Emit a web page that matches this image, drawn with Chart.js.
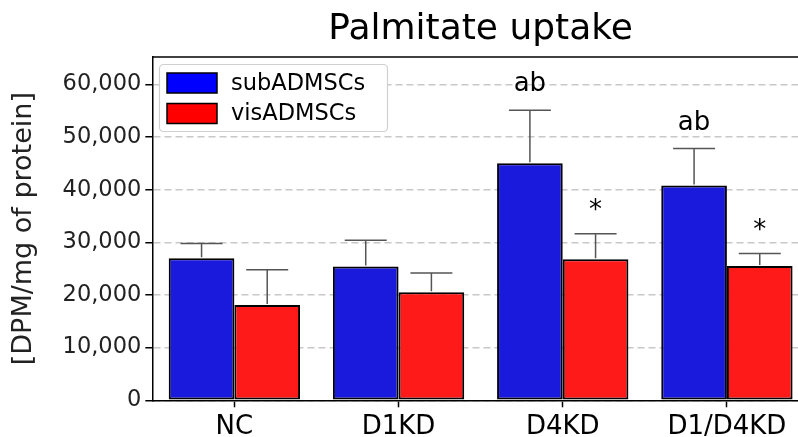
<!DOCTYPE html>
<html lang="en">
<head>
    <meta charset="UTF-8">
    <script src="https://cdn.jsdelivr.net/npm/chart.js"></script>
    <title>Palmitate uptake</title>
    <style>
        html, body { margin: 0; padding: 0; overflow: hidden; background: #fff; }
    </style>
    <script>
        // groups and values
        let categories = ['NC', 'D1KD', 'D4KD', 'D1/D4KD'];
        let subMeans = [27000, 25400, 45000, 40800];
        let subErr = [2800, 5000, 10100, 7000];
        let visMeans = [18100, 20500, 26800, 25500];
        let visErr = [6700, 3700, 4850, 2400];
        let subMarks = ['', '', 'ab', 'ab'];
        let visMarks = ['', '', '*', '*'];
        let yTicks = [0, 10000, 20000, 30000, 40000, 50000, 60000];

        let FONT = 'DejaVu Sans';

        // error bars, significance letters, title, top spine and legend
        let extras = {
            id: 'extras',
            afterDatasetsDraw: function (chart) {
                let ctx = chart.ctx;
                let ys = chart.scales.y;
                let area = chart.chartArea;
                ctx.save();
                chart.data.datasets.forEach(function (ds, di) {
                    let meta = chart.getDatasetMeta(di);
                    meta.data.forEach(function (bar, i) {
                        let top = ys.getPixelForValue(ds.data[i] + ds.err[i]);
                        let base = ys.getPixelForValue(ds.data[i]);
                        ctx.strokeStyle = '#555';
                        ctx.lineWidth = 1.5;
                        ctx.beginPath();
                        ctx.moveTo(bar.x, base - 1);
                        ctx.lineTo(bar.x, top);
                        ctx.moveTo(bar.x - 21, top);
                        ctx.lineTo(bar.x + 21, top);
                        ctx.stroke();
                        let m = ds.marks[i];
                        if (m) {
                            ctx.font = '26px "' + FONT + '"';
                            ctx.fillStyle = '#000';
                            ctx.textAlign = 'center';
                            ctx.textBaseline = 'alphabetic';
                            let tm = ctx.measureText(m);
                            let cy = top - 29;
                            ctx.fillText(m, bar.x, cy + (tm.actualBoundingBoxAscent - tm.actualBoundingBoxDescent) / 2);
                        }
                    });
                });

                // top spine
                ctx.strokeStyle = '#000';
                ctx.lineWidth = 1.5;
                ctx.beginPath();
                ctx.moveTo(area.left, area.top);
                ctx.lineTo(area.right, area.top);
                ctx.stroke();

                // title
                ctx.font = '36px "' + FONT + '"';
                ctx.fillStyle = '#000';
                ctx.textAlign = 'center';
                ctx.textBaseline = 'alphabetic';
                ctx.fillText('Palmitate uptake', (area.left + area.right) / 2, 39);

                // legend
                ctx.fillStyle = '#fff';
                ctx.strokeStyle = '#d0d0d0';
                ctx.lineWidth = 1.2;
                ctx.beginPath();
                ctx.roundRect(159.5, 64.5, 228, 67, 4);
                ctx.fill();
                ctx.stroke();
                let swatch = ['#0000ff', '#ff0000'];
                chart.data.datasets.forEach(function (ds, di) {
                    let y0 = 73 + di * 30.5;
                    ctx.fillStyle = swatch[di];
                    ctx.fillRect(167, y0, 50, 20);
                    ctx.strokeStyle = '#000';
                    ctx.lineWidth = 1.5;
                    ctx.strokeRect(167, y0, 50, 20);
                    ctx.fillStyle = '#000';
                    ctx.font = '22.5px "' + FONT + '"';
                    ctx.textAlign = 'left';
                    ctx.textBaseline = 'middle';
                    ctx.fillText(ds.label, 231, y0 + 11);
                });
                ctx.restore();
            }
        };

        function init() {
            let ctx = document.getElementById('myChart');
            new Chart(ctx, {
                type: 'bar',
                data: {
                    labels: categories,
                    datasets: [{
                        label: 'subADMSCs',
                        data: subMeans,
                        err: subErr,
                        marks: subMarks,
                        backgroundColor: '#1a1adc',
                        borderColor: '#000',
                        borderWidth: 2,
                        borderSkipped: false,
                        categoryPercentage: 0.8,
                        barPercentage: 1.0
                    }, {
                        label: 'visADMSCs',
                        data: visMeans,
                        err: visErr,
                        marks: visMarks,
                        backgroundColor: '#ff1a1a',
                        borderColor: '#000',
                        borderWidth: 2,
                        borderSkipped: false,
                        categoryPercentage: 0.8,
                        barPercentage: 1.0
                    }]
                },
                options: {
                    responsive: false,
                    animation: false,
                    layout: { padding: { top: 57, left: 0, right: 3, bottom: 0 } },
                    plugins: {
                        legend: { display: false },
                        title: { display: false },
                        tooltip: { enabled: false }
                    },
                    scales: {
                        x: {
                            grid: {
                                offset: false,
                                drawOnChartArea: false,
                                drawTicks: true,
                                tickLength: 7,
                                tickColor: '#000',
                                tickWidth: 1.5
                            },
                            border: { display: true, color: '#000', width: 1.5 },
                            ticks: {
                                color: '#000',
                                padding: 4,
                                font: { family: FONT, size: 26 }
                            },
                            afterFit: function (scale) { scale.height = 36.7; }
                        },
                        y: {
                            min: 0,
                            max: 65200,
                            afterBuildTicks: function (scale) {
                                scale.ticks = yTicks.map(function (v) { return { value: v }; });
                            },
                            grid: {
                                color: '#c8c8c8',
                                lineWidth: 1.5,
                                drawTicks: true,
                                tickLength: 7,
                                tickColor: '#000',
                                tickWidth: 1.5,
                                tickBorderDash: []
                            },
                            border: { display: true, color: '#000', width: 1.5, dash: [7, 4] },
                            ticks: {
                                color: '#222',
                                padding: 4,
                                font: { family: FONT, size: 22.5 },
                                callback: function (v) { return v.toLocaleString('en-US'); }
                            },
                            title: {
                                display: true,
                                text: '[DPM/mg of protein]',
                                color: '#222',
                                font: { family: FONT, size: 27 },
                                padding: { top: 8, bottom: 0 }
                            },
                            afterFit: function (scale) { scale.width = 152.3; }
                        }
                    }
                },
                plugins: [extras]
            });
        }
    </script>
</head>
<body>
    <canvas id="myChart" width="812" height="437"></canvas>
    <script>init();</script>
</body>
</html>
